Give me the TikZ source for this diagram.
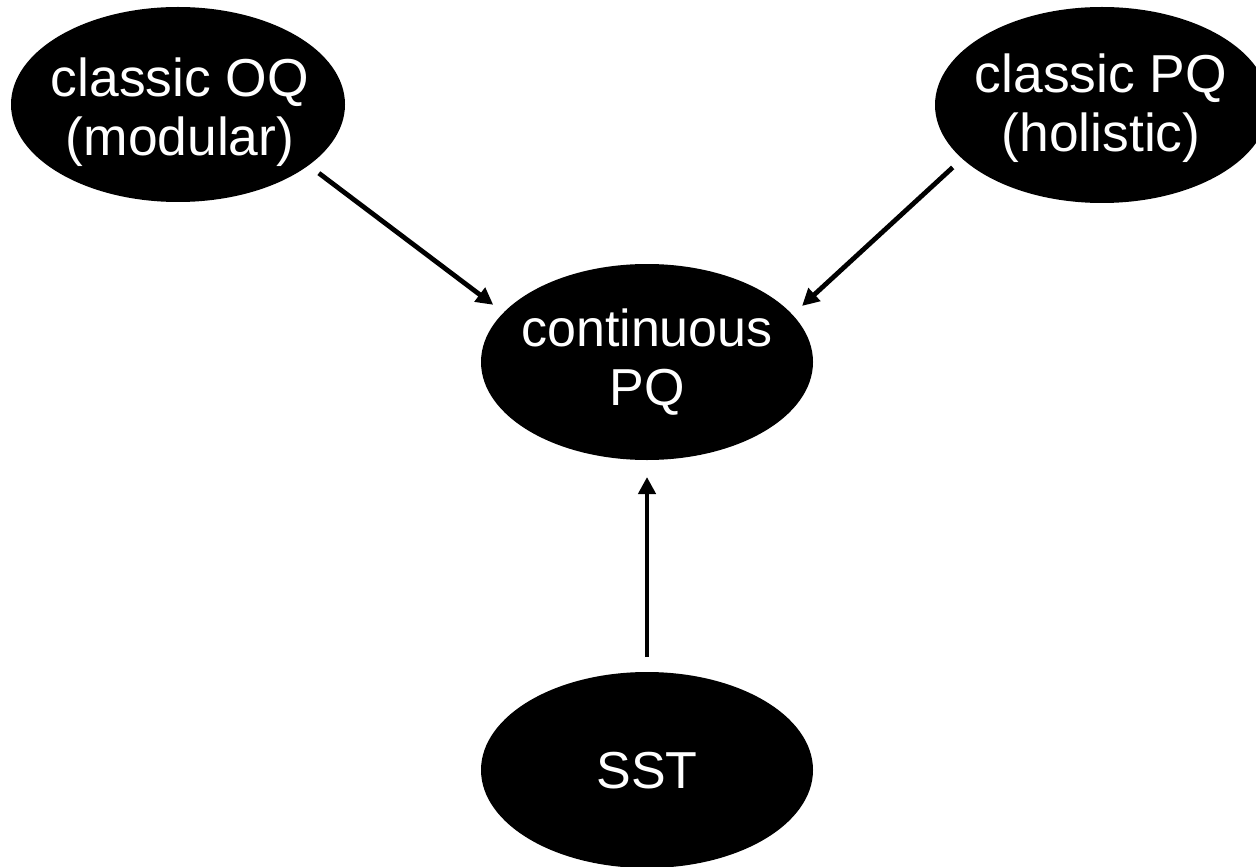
\documentclass[tikz,border=0pt]{standalone}
\usepackage{fontspec}
\setmainfont{Liberation Sans}
\usetikzlibrary{shapes.geometric,arrows.meta}
\begin{document}
\begin{tikzpicture}[x=0.5pt,y=-0.5pt,
  ell/.style={ellipse, fill=black, draw=none, inner sep=0pt, outer sep=0pt},
  lbl/.style={text=white, align=center, font=\fontsize{26}{29.5}\selectfont, inner sep=0pt},
  toplbl/.style={lbl, font=\fontsize{26.7}{29.5}\selectfont},
  arr/.style={line width=2.4pt, -{Triangle[length=8.5pt,width=8.5pt]}, shorten >=6.5pt, shorten <=6.5pt}]
\useasboundingbox (0,0) rectangle (1256,866);
\node[ell, minimum width=167pt, minimum height=97.5pt] (tl) at (178,104.5) {};
\node[ell, minimum width=167pt, minimum height=98pt] (tr) at (1102,105) {};
\node[ell, minimum width=166pt, minimum height=98pt] (c) at (647,362) {};
\node[ell, minimum width=166pt, minimum height=98pt] (sst) at (647,770) {};
\node[toplbl] (tlt) at (180,112) {classic OQ\\(modular)};
\node[toplbl] (trt) at (1101,108) {classic PQ\\(holistic)};
\node[lbl] (ct) at (647,362) {continuous\\PQ};
\node[lbl] (sstt) at (647,771) {SST};
\draw[arr] (tl.-25.2) -- (c.161.7);
\draw[arr] (tr.-159) -- (c.18.7);
\draw[arr, shorten <=7.5pt, shorten >=8.5pt] (sst.north) -- (c.south);
\end{tikzpicture}
\end{document}
